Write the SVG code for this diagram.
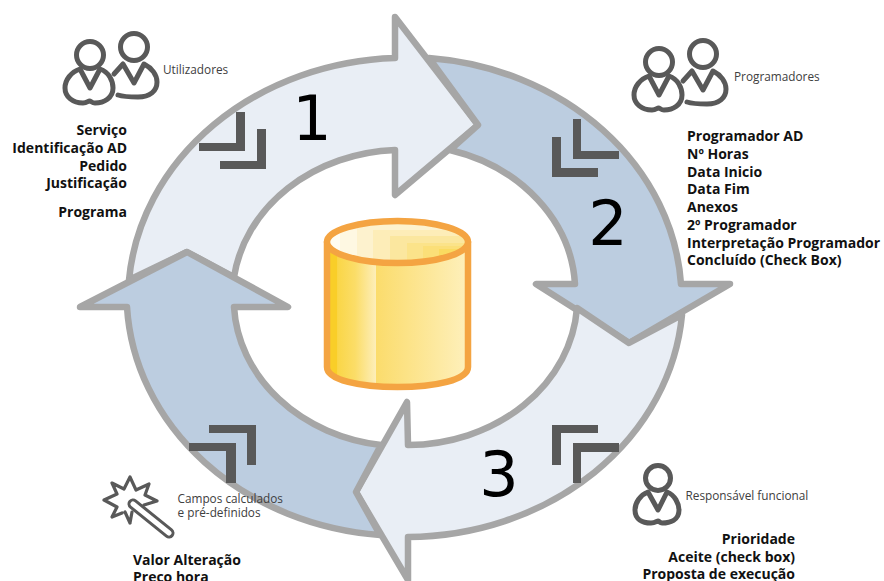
<svg xmlns="http://www.w3.org/2000/svg" xmlns:xlink="http://www.w3.org/1999/xlink" width="884" height="581" viewBox="0 0 884 581">
<style>
.arrow{stroke:#A6A6A6;stroke-width:6.5;stroke-linejoin:round}
.light{fill:#E9EEF5}
.blue{fill:#BCCDE0}
.chev{fill:#595959}
.num{font-family:"DejaVu Sans",sans-serif;font-size:62px;fill:#000;text-anchor:middle}
.b{font-family:"Open Sans","Noto Sans",sans-serif;font-weight:700;font-size:14px;fill:#111}
.r{text-anchor:end}
.s{font-family:"Open Sans","Noto Sans",sans-serif;font-size:11.8px;fill:#404040}
.ico{fill:none;stroke:#595959;stroke-width:5;stroke-linejoin:round;stroke-linecap:round}
</style>
<defs>
<linearGradient id="body" x1="327" x2="468" y1="0" y2="0" gradientUnits="userSpaceOnUse">
<stop offset="0" stop-color="#F9CE28"/><stop offset=".07" stop-color="#F9CE28"/><stop offset=".075" stop-color="#FAD647"/>
<stop offset=".2" stop-color="#FBDD68"/><stop offset=".345" stop-color="#FDEEB8"/><stop offset=".35" stop-color="#FBDC6C"/>
<stop offset="1" stop-color="#FEF0BC"/>
</linearGradient>
<clipPath id="topclip"><ellipse cx="397.5" cy="242" rx="70.5" ry="21"/></clipPath>
<g id="person2">
<circle cx="90" cy="55" r="13.5" class="ico"/>
<path class="ico" d="M80,69 L90,88 L100,69 C109,72 113,81 113,88 C113,98 104,103 95,103 C92,103 91,101 89.5,101 C88,101 87,103 83,103 C73,103 65,97 65,88 C65,80 71,72 80,69 Z"/>
<circle cx="134" cy="47" r="13.5" class="ico"/>
<path class="ico" d="M114,74 L123,64 L134,83 L144,64 C152,68 157,75 157,82 C157,91 150,97 138,97 C130,97 124,97 118,95"/>
</g>
</defs>
<rect width="884" height="581" fill="#fff"/>
<g id="connectors">
<path id="arrow-1" class="arrow light" d="M129,280 A277 242 0 0 1 395,58 L395,17 L478,125 L395,195 L395,150 A170 147 0 0 0 234,277 L187,252 Z"/>
<path id="arrow-2" class="arrow blue" d="M429,58 A277 242 0 0 1 681,284 L730,284 L629,343 L536,284 L575,284 A170 147 0 0 0 450,150 L478,125 Z"/>
<path id="arrow-3" class="arrow light" d="M682,315 A277 242 0 0 1 408,537 L408,580 L356,492 L407,402 L408,445 A170 147 0 0 0 577,308 L629,343 Z"/>
<path id="arrow-4" class="arrow blue" d="M380,535 A277 242 0 0 1 127,307 L80,307 L187,252 L288,307 L234,307 A170 147 0 0 0 381,445 L356,492 Z"/>
</g>
<g id="chevrons" class="chev">
<path d="M199,143H236V112H245V151H199Z"/><path d="M220,161H257V129H266V169H220Z"/>
<path d="M573,119H581V151H619V159H573Z"/><path d="M552,137H561V168H598V177H552Z"/>
<path d="M209,425H256V465H247V433H209Z"/><path d="M189,443H236V483H226V451H189Z"/>
<path d="M552,425H598V433H561V465H552Z"/><path d="M573,443H619V452H581V483H573Z"/>
</g>
<text class="num" x="312" y="140">1</text>
<text class="num" x="608" y="245">2</text>
<text class="num" x="499" y="496">3</text>
<g id="database">
<path d="M327,242 V367 C327,380 360,387 397.5,387 C435,387 468,380 468,367 V242 Z" fill="url(#body)" stroke="#F4A442" stroke-width="6.5" stroke-linejoin="round"/>
<ellipse cx="397.5" cy="242" rx="70.5" ry="21" fill="#FFFDF3"/>
<g clip-path="url(#topclip)">
<rect x="340" y="215" width="140" height="60" fill="#FEF8E2"/>
<rect x="357" y="215" width="120" height="60" fill="#FDF2CE"/>
<rect x="373" y="230" width="110" height="40" fill="#FDEDB8"/>
<rect x="390" y="236" width="90" height="40" fill="#FBE79F"/>
<rect x="407" y="243" width="70" height="30" fill="#FBE38A"/>
<rect x="423" y="246" width="50" height="30" fill="#FBDF78"/>
<rect x="439" y="249" width="40" height="30" fill="#FADB60"/>
</g>
<ellipse cx="397.5" cy="242" rx="70.5" ry="21" fill="none" stroke="#F4A442" stroke-width="6.5"/>
</g>
<g id="utilizadores">
<use href="#person2" xlink:href="#person2"/>
<text class="s" x="163" y="74">Utilizadores</text>
<g class="b r">
<text x="127" y="135">Serviço</text>
<text x="127" y="153">Identificação AD</text>
<text x="127" y="171">Pedido</text>
<text x="127" y="188">Justificação</text>
<text x="127" y="217">Programa</text>
</g>
</g>
<g id="programadores">
<use href="#person2" xlink:href="#person2" transform="translate(569,7)"/>
<text class="s" x="734" y="81">Programadores</text>
<g class="b">
<text x="687" y="141">Programador AD</text>
<text x="687" y="159">Nº Horas</text>
<text x="687" y="177">Data Inicio</text>
<text x="687" y="194">Data Fim</text>
<text x="687" y="212">Anexos</text>
<text x="687" y="230">2º Programador</text>
<text x="687" y="248">Interpretação Programador</text>
<text x="687" y="265">Concluído (Check Box)</text>
</g>
</g>
<g id="responsavel">
<circle cx="658" cy="478" r="12.5" class="ico"/>
<path class="ico" d="M648,492 L658,510 L667,492 C675,495 679,504 679,510 C679,520 670,523 662,523 C660,523 659,521 658,521 C657,521 655,523 651,523 C642,523 635,519 635,510 C635,503 640,495 648,492 Z"/>
<text class="s" x="685.500" y="500">Responsável funcional</text>
<g class="b r">
<text x="795" y="544">Prioridade</text>
<text x="795" y="562">Aceite (check box)</text>
<text x="795" y="579">Proposta de execução</text>
</g>
</g>
<g id="campos">
<path class="ico" style="stroke-width:3.2" d="M122,513 L112,517 L117,507 L104,500 L117,494 L112,483 L124,489 L130,477 L136,490 L149,484 L145,495 L157,501 L144,505 M130,523 L125,512 M130,523 L132,512"/>
<path d="M133,504 L169,533" stroke="#595959" stroke-width="11" stroke-linecap="round" fill="none"/>
<path d="M133,504 L169,533" stroke="#fff" stroke-width="5" stroke-linecap="round" fill="none"/>
<text class="s" x="177.500" y="503">Campos calculados</text>
<text class="s" x="177.500" y="517">e pré-definidos</text>
<g class="b">
<text x="133" y="565">Valor Alteração</text>
<text x="133" y="582">Preço hora</text>
</g>
</g>
</svg>
